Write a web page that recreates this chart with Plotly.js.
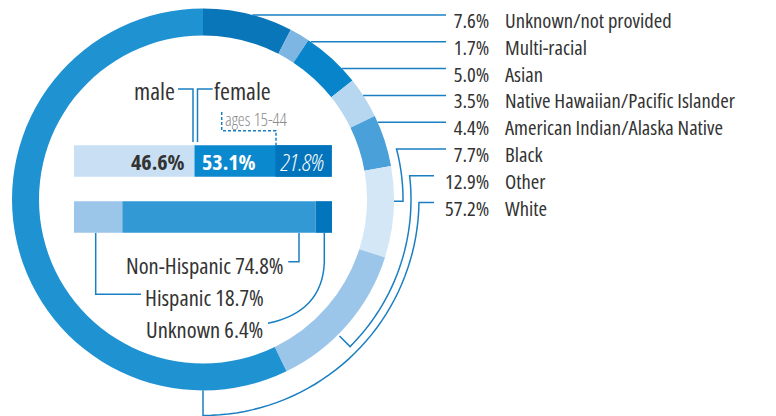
<!DOCTYPE html>
<html><head><meta charset="utf-8">
<script src="https://cdn.plot.ly/plotly-3.0.1.min.js"></script>
<style>
html,body{margin:0;padding:0;background:#fff;}
#chart{width:776px;height:416px;}
svg text{font-stretch:75%;}
</style></head><body><div id="chart"></div>
<script>
// ---------- data ----------
const raceLabels = ['Unknown/not provided','Multi-racial','Asian','Native Hawaiian/Pacific Islander','American Indian/Alaska Native','Black','Other','White'];
const racePct = [7.6, 1.7, 5.0, 3.5, 4.4, 7.7, 12.9, 57.2];
const sexLabels = ['male', 'female'];
const sexPct = [46.6, 53.1];
const femaleAgesLabel = 'ages 15-44';
const femaleAgesPct = 21.8;
const ethLabels = ['Hispanic', 'Non-Hispanic', 'Unknown'];
const ethPct = [18.7, 74.8, 6.4];

// ---------- styles ----------
const raceColors = ['#0a76ba','#7db6e2','#0884ca','#b7d6ef','#4aa1da','#d4e7f6','#9bc6ea','#1f92d2'];
const sexColors = ['#c9e0f4', '#0b89cf'];
const agesColor = '#0274bb';
const ethColors = ['#9bc5e9', '#3399d5', '#0275bc'];
const LINE = '#1a7fc2';
const TXT = '#333333';
const FONT = 'Open Sans, sans-serif';

// ---------- geometry (pixels) ----------
const W = 776, H = 416, CX = 203, CY = 199.5, R = 191, RIN = 164;
const X = v => v / W, Y = v => 1 - v / H;
const fmt = v => v.toFixed(1) + '%';
const pt = (r, a) => [CX + r * Math.sin(a * Math.PI / 180), CY - r * Math.cos(a * Math.PI / 180)];
const pathOf = pts => 'M ' + pts.map(p => X(p[0]).toFixed(5) + ',' + Y(p[1]).toFixed(5)).join(' L ');

const traces = [];
traces.push({
  type: 'pie', labels: raceLabels, values: racePct, sort: false, direction: 'clockwise', rotation: 0,
  hole: RIN / R, textinfo: 'none', showlegend: false,
  marker: { colors: raceColors, line: { width: 0 } },
  domain: { x: [X(CX - R), X(CX + R)], y: [Y(CY + R), Y(CY - R)] },
  hovertemplate: '%{label}: %{value}%<extra></extra>'
});
const BW = 0.566;
// sex bar
traces.push({ type: 'bar', orientation: 'h', y: [0], x: [sexPct[0]], base: [0], width: BW, marker: { color: sexColors[0] }, name: sexLabels[0], showlegend: false });
traces.push({ type: 'bar', orientation: 'h', y: [0], x: [sexPct[1]], base: [sexPct[0]], width: BW, marker: { color: sexColors[1] }, name: sexLabels[1], showlegend: false });
traces.push({ type: 'bar', orientation: 'h', y: [0], x: [femaleAgesPct], base: [sexPct[0] + sexPct[1] - femaleAgesPct], width: BW, marker: { color: agesColor }, name: femaleAgesLabel, showlegend: false });
// ethnicity bar
let acc = 0;
ethPct.forEach((v, i) => {
  traces.push({ type: 'bar', orientation: 'h', y: [1], x: [v], base: [acc], width: BW, marker: { color: ethColors[i] }, name: ethLabels[i], showlegend: false });
  acc += v;
});

const shapes = [];
const annotations = [];
const lineShape = (pts, extra) => Object.assign({ type: 'path', xref: 'paper', yref: 'paper', path: pathOf(pts), line: { color: LINE, width: 1.5 } }, extra || {});

// right-hand race labels (two multi-line columns; line pitch = 1.3 * font size) with leader lines
const LY0 = 15, LSTEP = 26.8, RFS = LSTEP / 1.3;
const lineEnds = [446, 446, 446, 446, 446, 446, 434, 434];
const arcSpec = { 5: { r: 200, a: 90.5, rEnd: R }, 6: { r: 208, a: 135, rEnd: 193 }, 7: { r: 216, a: 180, rEnd: R } };
const blockMid = LY0 + 5 + (raceLabels.length - 1) * LSTEP / 2;
annotations.push({ xref: 'paper', yref: 'paper', x: X(491), y: Y(blockMid), xanchor: 'right', yanchor: 'middle', align: 'right', showarrow: false,
  text: racePct.map(fmt).join('<br>'), font: { family: FONT, size: RFS, color: TXT } });
annotations.push({ xref: 'paper', yref: 'paper', x: X(503), y: Y(blockMid), xanchor: 'left', yanchor: 'middle', align: 'left', showarrow: false,
  text: raceLabels.join('<br>'), font: { family: FONT, size: RFS, color: TXT } });
raceLabels.forEach((lab, i) => {
  const yl = LY0 + i * LSTEP;
  let pts;
  if (!arcSpec[i]) {
    pts = [[lineEnds[i], yl], [CX + Math.sqrt(R * R - (CY - yl) * (CY - yl)), yl]];
  } else {
    const s = arcSpec[i];
    const a0 = Math.acos((CY - yl) / s.r) * 180 / Math.PI;
    pts = [[lineEnds[i], yl]];
    const n = 40;
    for (let k = 0; k <= n; k++) pts.push(pt(s.r, a0 + (s.a - a0) * k / n));
    pts.push(pt(s.rEnd, s.a));
  }
  shapes.push(lineShape(pts));
});

// male / female labels
annotations.push({ xref: 'paper', yref: 'paper', x: X(177), y: Y(90), xanchor: 'right', yanchor: 'middle', showarrow: false, text: sexLabels[0], font: { family: FONT, size: 24, color: TXT } });
annotations.push({ xref: 'paper', yref: 'paper', x: X(212), y: Y(90), xanchor: 'left', yanchor: 'middle', showarrow: false, text: sexLabels[1], font: { family: FONT, size: 24, color: TXT } });
shapes.push(lineShape([[178, 89], [193, 89], [193, 142]]));
shapes.push(lineShape([[212.7, 89], [197.5, 89], [197.5, 142]]));
annotations.push({ xref: 'paper', yref: 'paper', x: X(223), y: Y(119), xanchor: 'left', yanchor: 'middle', showarrow: false, text: femaleAgesLabel, font: { family: FONT, size: 17.5, color: '#8a8a8a', weight: 300 } });
shapes.push(lineShape([[221.7, 112], [221.7, 130.7], [276, 130.7], [276, 145]], { line: { color: LINE, width: 1.5, dash: '3px,2px' } }));

// values inside the sex bar
annotations.push({ xref: 'x', yref: 'y', x: sexPct[0], y: 0, xanchor: 'right', xshift: -7, yanchor: 'middle', showarrow: false, text: fmt(sexPct[0]), font: { family: FONT, size: 22, color: TXT, weight: 700 } });
annotations.push({ xref: 'x', yref: 'y', x: sexPct[0], y: 0, xanchor: 'left', xshift: 6, yanchor: 'middle', showarrow: false, text: fmt(sexPct[1]), font: { family: FONT, size: 22, color: '#ffffff', weight: 700 } });
annotations.push({ xref: 'x', yref: 'y', x: sexPct[0] + sexPct[1] - femaleAgesPct / 2, y: 0, xanchor: 'center', xshift: -2, yanchor: 'middle', showarrow: false, text: fmt(femaleAgesPct), font: { family: FONT, size: 24, color: '#ffffff', style: 'italic', weight: 300 } });

// ethnicity labels (centered block)
const ethOrder = [1, 0, 2];
const ethY = [265, 297.5, 329.5];
ethOrder.forEach((idx, k) => {
  annotations.push({ xref: 'paper', yref: 'paper', x: X(204.5), y: Y(ethY[k]), xanchor: 'center', yanchor: 'middle', showarrow: false, text: ethLabels[idx] + ' ' + fmt(ethPct[idx]), font: { family: FONT, size: 22.5, color: TXT } });
});
shapes.push(lineShape([[95.7, 233], [95.7, 294.3], [141, 294.3]]));
shapes.push(lineShape([[299, 233], [299, 261.7], [288.3, 261.7]]));
shapes.push({ type: 'path', xref: 'paper', yref: 'paper',
  path: 'M ' + X(324.3) + ',' + Y(233) + ' L ' + X(324.3) + ',' + Y(263) + ' Q ' + X(322) + ',' + Y(312) + ' ' + X(268) + ',' + Y(323.3),
  line: { color: LINE, width: 1.5 } });

const layout = {
  width: W, height: H, margin: { l: 0, r: 0, t: 0, b: 0 },
  paper_bgcolor: '#ffffff', plot_bgcolor: 'rgba(0,0,0,0)',
  barmode: 'overlay', showlegend: false,
  xaxis: { domain: [X(74), X(332)], range: [0, 99.8], visible: false, fixedrange: true },
  yaxis: { domain: [Y(245), Y(133)], range: [1.5, -0.5], visible: false, fixedrange: true },
  shapes: shapes, annotations: annotations,
  font: { family: FONT, color: TXT }
};
Plotly.newPlot('chart', traces, layout, { displayModeBar: false, staticPlot: false });
</script></body></html>
